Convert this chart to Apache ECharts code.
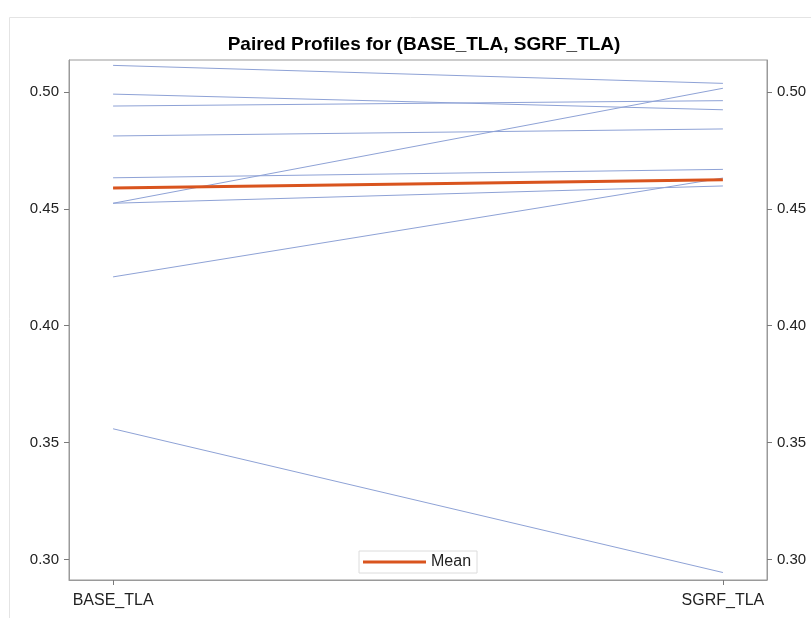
<!DOCTYPE html>
<html>
<head>
<meta charset="utf-8">
<script src="https://cdn.jsdelivr.net/npm/echarts@6/dist/echarts.min.js"></script>
<style>
  html, body { margin: 0; padding: 0; background: #fff; }
  #chart { width: 811px; height: 618px; }
</style>
</head>
<body>
<div id="chart"></div>
<script>
// Paired measurements: one profile per subject, BASE_TLA -> SGRF_TLA
const conditions = ['BASE_TLA', 'SGRF_TLA'];
const baseTLA = [0.5114, 0.4991, 0.4940, 0.4812, 0.4633, 0.4524, 0.4524, 0.4209, 0.3559];
const sgrfTLA = [0.5037, 0.4924, 0.4963, 0.4842, 0.4669, 0.5016, 0.4598, 0.4632, 0.2944];
const yTicks = [0.30, 0.35, 0.40, 0.45, 0.50];

const mean = arr => arr.reduce((s, v) => s + v, 0) / arr.length;
const meanProfile = [mean(baseTLA), mean(sgrfTLA)];

const FONT = 'Liberation Sans, Arial, sans-serif';
const chart = echarts.init(document.getElementById('chart'));

const profileSeries = baseTLA.map((b, i) => ({
  type: 'line',
  name: 'profile' + i,
  data: [[0, b], [1, sgrfTLA[i]]],
  symbol: 'none',
  silent: true,
  lineStyle: { color: '#8ea2d6', width: 1 },
  z: 2
}));

const yAxisBase = {
  type: 'value',
  min: 0.2912,
  max: 0.5137,
  splitLine: { show: false },
  axisLine: { show: true, onZero: false, lineStyle: { color: '#9a9a9a', width: 1 } },
  axisTick: { show: true, length: 5, customValues: yTicks, lineStyle: { color: '#7a7a7a' } },
  axisLabel: {
    customValues: yTicks,
    formatter: v => v.toFixed(2),
    color: '#222',
    fontSize: 15,
    fontFamily: FONT,
    margin: 10
  }
};

chart.setOption({
  animation: false,
  backgroundColor: '#fff',
  title: {
    text: 'Paired Profiles for (BASE_TLA, SGRF_TLA)',
    left: 419,
    top: 30,
    textAlign: 'center',
    textStyle: { fontSize: 19, fontWeight: 'bold', color: '#000', fontFamily: FONT }
  },
  graphic: [{
    type: 'rect',
    shape: { x: 9.5, y: 17.5, width: 820, height: 620 },
    style: { fill: 'none', stroke: '#e4e4e4', lineWidth: 1 },
    silent: true,
    z: -10
  }],
  grid: { left: 69, top: 60, right: 44, bottom: 38, show: true, borderColor: '#9a9a9a', borderWidth: 1 },
  legend: {
    data: ['Mean'],
    left: 359,
    top: 551,
    padding: [3, 6, 3, 4],
    itemWidth: 63,
    itemHeight: 3,
    itemGap: 4,
    borderColor: '#dcdcdc',
    borderWidth: 1,
    backgroundColor: '#fff',
    icon: 'rect',
    textStyle: { fontSize: 16, color: '#222', fontFamily: FONT, padding: [0, 0, 0, 0] }
  },
  xAxis: {
    type: 'value',
    min: -0.0723,
    max: 1.0723,
    splitLine: { show: false },
    axisLine: { show: true, onZero: false, lineStyle: { color: '#9a9a9a' } },
    axisTick: { show: true, length: 5, customValues: [0, 1], lineStyle: { color: '#7a7a7a' } },
    axisLabel: {
      customValues: [0, 1],
      formatter: v => conditions[Math.round(v)],
      color: '#222',
      fontSize: 16,
      fontFamily: FONT,
      margin: 13
    }
  },
  yAxis: [
    Object.assign({ position: 'left' }, yAxisBase),
    Object.assign({ position: 'right' }, yAxisBase)
  ],
  series: profileSeries.concat([{
    type: 'line',
    name: 'Mean',
    data: [[0, meanProfile[0]], [1, meanProfile[1]]],
    symbol: 'none',
    silent: true,
    itemStyle: { color: '#d9541e' },
    lineStyle: { color: '#d9541e', width: 3 },
    z: 5
  }])
});
</script>
</body>
</html>
